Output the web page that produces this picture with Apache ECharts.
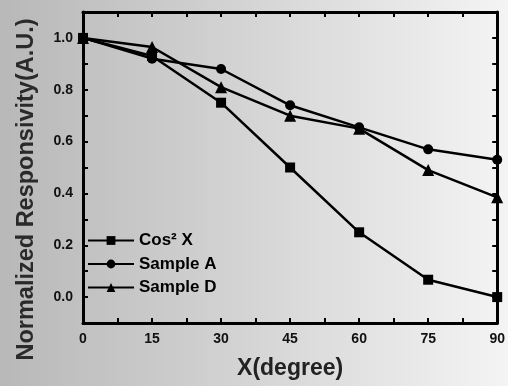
<!DOCTYPE html>
<html>
<head>
    <meta charset="UTF-8">
    <title>Normalized Responsivity</title>
    <script src="https://cdn.jsdelivr.net/npm/echarts@6/dist/echarts.min.js"></script>
    <style>
        html, body { margin: 0; padding: 0; }
        #chart { width: 508px; height: 386px; }
    </style>
</head>
<body>
    <div id="chart"></div>
    <script>
        // data
        const angles = [0, 15, 30, 45, 60, 75, 90];
        const cos2x = [1.0, 0.93, 0.75, 0.50, 0.25, 0.067, 0.0];
        const sampleA = [1.0, 0.92, 0.88, 0.74, 0.655, 0.57, 0.53];
        const sampleD = [1.0, 0.965, 0.81, 0.70, 0.65, 0.49, 0.385];
        const seriesNames = ['Cos\u00B2 X', 'Sample A', 'Sample D'];

        const chart = echarts.init(document.getElementById('chart'));

        const pairs = vals => angles.map((a, i) => [a, vals[i]]);
        const axisFont = { color: '#111', fontFamily: 'Liberation Sans', fontWeight: 'bold', fontSize: 14 };
        const tick = { show: true, inside: true, length: 5, lineStyle: { color: '#000', width: 2 } };

        function line(name, vals, symbol) {
            return {
                name: name,
                type: 'line',
                data: pairs(vals),
                symbol: symbol,
                symbolSize: symbol === 'triangle' ? 12 : 10,
                lineStyle: { color: '#000', width: 2.5 },
                itemStyle: { color: '#000' },
                z: 3
            };
        }

        chart.setOption({
            backgroundColor: new echarts.graphic.LinearGradient(0, 0, 1, 0, [
                { offset: 0, color: '#b8b8b8' },
                { offset: 0.45, color: '#d2d2d2' },
                { offset: 1, color: '#f4f4f4' }
            ]),
            animation: false,
            grid: { left: 83, right: 10, top: 12, bottom: 63 },
            legend: {
                data: seriesNames,
                orient: 'vertical',
                left: 82,
                top: 227,
                itemWidth: 46,
                itemHeight: 11,
                itemGap: 6.5,
                textStyle: { color: '#000', fontFamily: 'Liberation Sans', fontWeight: 'bold', fontSize: 17 }
            },
            xAxis: [{
                type: 'value',
                min: 0, max: 90, interval: 7.5,
                name: 'X(degree)',
                nameLocation: 'middle',
                nameGap: 34,
                nameTextStyle: { color: '#222', fontFamily: 'Liberation Sans', fontWeight: 'bold', fontSize: 23 },
                axisLine: { show: true, onZero: false, lineStyle: { color: '#000', width: 3 } },
                axisTick: tick,
                axisLabel: Object.assign({
                    margin: 9,
                    formatter: v => (Math.round(v * 2) % 30 === 0 ? String(v) : '')
                }, axisFont),
                splitLine: { show: false }
            }, {
                type: 'value', position: 'top',
                min: 0, max: 90, interval: 7.5,
                axisLine: { show: true, onZero: false, lineStyle: { color: '#000', width: 3 } },
                axisTick: tick,
                axisLabel: { show: false },
                splitLine: { show: false }
            }],
            yAxis: [{
                type: 'value',
                min: -0.1, max: 1.1, interval: 0.1,
                name: 'Normalized Responsivity(A.U.)',
                nameLocation: 'middle',
                nameGap: 44,
                nameTextStyle: {
                    color: '#2a2a2a', fontFamily: 'Liberation Sans', fontWeight: 'bold', fontSize: 23.5,
                    padding: [0, 44, 0, 0]
                },
                axisLine: { show: true, onZero: false, lineStyle: { color: '#000', width: 3 } },
                axisTick: tick,
                axisLabel: Object.assign({
                    margin: 10,
                    formatter: v => {
                        const k = Math.round(v * 10);
                        return k >= 0 && k % 2 === 0 ? (k / 10).toFixed(1) : '';
                    }
                }, axisFont),
                splitLine: { show: false }
            }, {
                type: 'value', position: 'right',
                min: -0.1, max: 1.1, interval: 0.1,
                axisLine: { show: true, onZero: false, lineStyle: { color: '#000', width: 3 } },
                axisTick: tick,
                axisLabel: { show: false },
                splitLine: { show: false }
            }],
            series: [
                line(seriesNames[0], cos2x, 'rect'),
                line(seriesNames[1], sampleA, 'circle'),
                line(seriesNames[2], sampleD, 'triangle')
            ]
        });
    </script>
</body>
</html>
